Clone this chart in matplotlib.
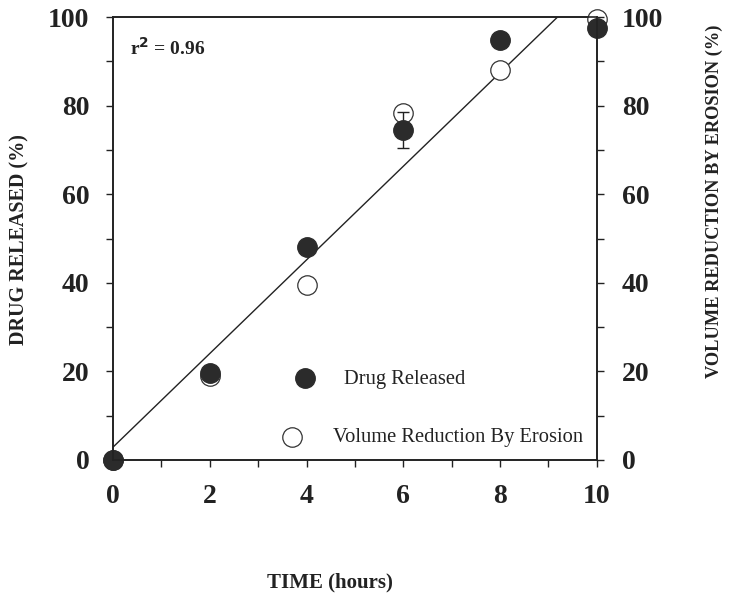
import numpy as np
import matplotlib
matplotlib.use("Agg")
import matplotlib.pyplot as plt
from matplotlib.ticker import MultipleLocator

plt.rcParams['font.family'] = ['Liberation Serif', 'DejaVu Serif']

# release / erosion data (hours, %)
time_h = [0, 2, 4, 6, 8, 10]
drug_released = [0, 19.6, 48.0, 74.5, 94.8, 97.5]
drug_err = [0, 0, 0, 4.0, 0, 0]
volume_reduction = [0, 19.0, 39.5, 78.3, 88.0, 99.5]

x_ticks = [0, 2, 4, 6, 8, 10]
y_ticks = [0, 20, 40, 60, 80, 100]

INK = '#222222'
DOT = '#2b2b2b'

fig = plt.figure(figsize=(7.34, 5.97), dpi=100)
ax = fig.add_axes([0.154, 0.2295, 0.659, 0.742])
ax2 = ax.twinx()

# linear fit through the drug release points
slope, intercept = np.polyfit(time_h, drug_released, 1)
xf = np.linspace(0, 10, 200)
ax.plot(xf, slope * xf + intercept, color=INK, lw=1.0, zorder=2)

ax.plot(time_h, volume_reduction, 'o', ms=14, mfc='white', mec='#333333',
        mew=0.9, ls='none', zorder=3, clip_on=False)
ax.errorbar(time_h, drug_released, yerr=drug_err, fmt='none', ecolor=INK,
            elinewidth=1.0, capsize=4, capthick=1.0, zorder=3.5)
ax.plot(time_h, drug_released, 'o', ms=14, mfc=DOT, mec=DOT,
        ls='none', zorder=4, clip_on=False)

# legend entries
ax.plot([0.397], [0.185], 'o', ms=14, mfc=DOT, mec=DOT,
        transform=ax.transAxes, zorder=4)
ax.text(0.478, 0.181, 'Drug Released', transform=ax.transAxes,
        fontsize=14.8, va='center', ha='left', color=INK)
ax.plot([0.370], [0.052], 'o', ms=14, mfc='white', mec='#333333', mew=0.9,
        transform=ax.transAxes, zorder=4)
ax.text(0.455, 0.050, 'Volume Reduction By Erosion', transform=ax.transAxes,
        fontsize=14.8, va='center', ha='left', color=INK)

ax.text(0.035, 0.93, r'r$^{\mathbf{2}}$ = 0.96', transform=ax.transAxes,
        fontsize=14, fontweight='bold', va='center', ha='left', color=INK)

for a in (ax, ax2):
    a.set_xlim(0, 10)
    a.set_ylim(0, 100)
    for s in a.spines.values():
        s.set_linewidth(1.2)
        s.set_color(INK)

ax.set_xticks(x_ticks)
ax.xaxis.set_minor_locator(MultipleLocator(1))
ax.set_yticks(y_ticks)
ax.yaxis.set_minor_locator(MultipleLocator(10))
ax2.set_yticks(y_ticks)
ax2.yaxis.set_minor_locator(MultipleLocator(10))

ax.tick_params(axis='x', which='both', direction='out', length=5, width=1.0,
               labelsize=20, pad=12, colors=INK)
ax.tick_params(axis='y', which='both', direction='out', length=5, width=1.0,
               labelsize=20, pad=12, colors=INK)
ax2.tick_params(axis='y', which='both', direction='out', length=5, width=1.0,
                labelsize=20, pad=13, colors=INK)
for lbl in ax.get_xticklabels() + ax.get_yticklabels() + ax2.get_yticklabels():
    lbl.set_fontweight('bold')

fig.text(0.027, 0.598, 'DRUG RELEASED (%)', rotation=90, fontsize=14.5,
         fontweight='bold', ha='center', va='center', color=INK)
fig.text(0.973, 0.662, 'VOLUME REDUCTION BY EROSION (%)', rotation=90,
         fontsize=13.2, fontweight='bold', ha='center', va='center', color=INK)
fig.text(0.45, 0.0235, 'TIME (hours)', fontsize=15, fontweight='bold',
         ha='center', va='center', color=INK)

fig.savefig('out.png', dpi=100)
